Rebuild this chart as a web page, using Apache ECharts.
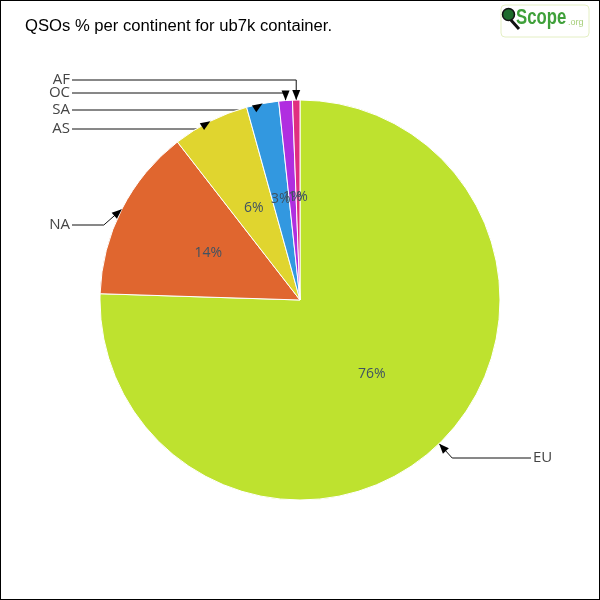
<!DOCTYPE html>
<html><head><meta charset="utf-8">
<script src="https://cdn.jsdelivr.net/npm/echarts@6/dist/echarts.min.js"></script>
<style>
html,body{margin:0;padding:0;background:#fff;}
#c{width:600px;height:600px;box-sizing:border-box;border:1px solid #000;}
</style></head><body>
<div id="c"></div>
<script>
const categories = ['EU', 'NA', 'AS', 'SA', 'OC', 'AF'];
const shares = [75.5, 14.0, 6.2, 2.6, 1.1, 0.6];
const sliceColors = ['#bee22f', '#e0662f', '#e0d52f', '#3298e0', '#b02ee0', '#e02e80'];
const titleText = 'QSOs % per continent for ub7k container.';

// label layout (positions of outside labels, not data)
const labelY = [458, 225, 129, 110, 93, 80];
const bendDx = [13, -18, -12, -10, 0, 0];
const leftEdge = 69, rightEdge = 532;

const chart = echarts.init(document.getElementById('c'));
const tips = [];
const fontLabel = 'Open Sans';

const pieData = categories.map((n, i) => ({ name: n, value: shares[i], itemStyle: { color: sliceColors[i] } }));

const option = {
  animation: false,
  series: [
    {
      type: 'pie',
      center: [299, 299],
      radius: 200,
      startAngle: 90,
      clockwise: true,
      silent: true,
      avoidLabelOverlap: false,
      minShowLabelAngle: 0,
      itemStyle: { borderColor: '#fff', borderWidth: 1 },
      label: {
        position: 'inside',
        formatter: p => Math.round(p.percent) + '%',
        color: '#3f5262',
        fontFamily: fontLabel,
        fontSize: 14
      },
      labelLayout: { hideOverlap: false },
      labelLine: { show: false },
      data: pieData
    },
    {
      type: 'pie',
      center: [299, 299],
      radius: 200,
      startAngle: 90,
      clockwise: true,
      silent: true,
      avoidLabelOverlap: false,
      itemStyle: { color: 'rgba(0,0,0,0)', borderWidth: 0 },
      label: {
        position: 'outside',
        formatter: '{b}',
        color: '#444',
        fontFamily: fontLabel,
        fontSize: 15
      },
      labelLine: { show: true, length: 10, length2: 10, lineStyle: { color: '#111', width: 1 } },
      labelLayout: function (p) {
        const i = p.dataIndex;
        const start = p.labelLinePoints[0];
        tips[i] = start.slice();
        const y = labelY[i] - 1;
        const bend = [start[0] + bendDx[i], y];
        const isRight = i === 0;
        const endX = isRight ? rightEdge - 2 : leftEdge + 2;
        return {
          x: isRight ? rightEdge : leftEdge,
          y: y,
          align: isRight ? 'left' : 'right',
          verticalAlign: 'middle',
          hideOverlap: false,
          labelLinePoints: [start, bend, [endX, y]]
        };
      },
      data: pieData.map(d => ({ name: d.name, value: d.value }))
    }
  ]
};

const fixed = [
  { type: 'text', x: 24, y: 18, scaleX: 1.04, style: { text: titleText, fill: '#000', font: '16px "Liberation Sans"' } },
  { type: 'rect', shape: { x: 500, y: 4, width: 88, height: 32, r: 4 }, style: { fill: '#fff', stroke: '#e4efc4', lineWidth: 1 } },
  { type: 'line', shape: { x1: 509, y1: 18, x2: 518, y2: 28 }, style: { stroke: '#111', lineWidth: 3 } },
  { type: 'circle', shape: { cx: 507.5, cy: 13.5, r: 6 }, style: { fill: '#1d6b2a', stroke: '#111', lineWidth: 1.5 } },
  { type: 'text', x: 515, y: 6, scaleX: 0.76, style: { text: 'Scope', fill: '#3fa03a', font: 'bold 22px "Liberation Sans"' } },
  { type: 'text', x: 567, y: 17, style: { text: '.org', fill: '#a6cf7a', font: '9px "Liberation Sans"' } }
];

option.graphic = fixed;
chart.setOption(option);

function arrows() {
  const g = [];
  tips.forEach((t, i) => {
    if (!t) return;
    const y = labelY[i] - 1;
    const b = [t[0] + bendDx[i], y];
    let dx = t[0] - b[0], dy = t[1] - b[1];
    const len = Math.hypot(dx, dy) || 1;
    dx /= len; dy /= len;
    const L = 10, W = 4;
    const base = [t[0] - dx * L, t[1] - dy * L];
    g.push({
      type: 'polygon',
      shape: { points: [t, [base[0] - dy * W, base[1] + dx * W], [base[0] + dy * W, base[1] - dx * W]] },
      style: { fill: '#000' },
      z: 100
    });
  });
  return g;
}
chart.setOption({ graphic: fixed.concat(arrows()) }, { replaceMerge: ['graphic'] });
</script>
</body></html>
